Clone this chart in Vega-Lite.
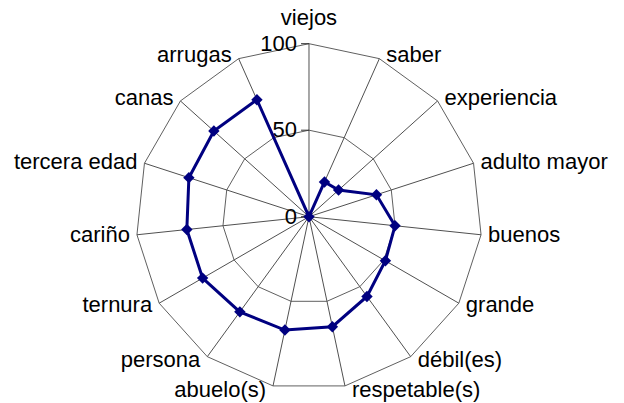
{
  "$schema": "https://vega.github.io/schema/vega-lite/v6.json",
  "width": 624,
  "height": 403,
  "autosize": "none",
  "padding": 0,
  "background": "white",
  "config": {"view": {"stroke": null}},
  "datasets": {
    "cats": [
      {"categoria": "viejos", "valor": 0},
      {"categoria": "saber", "valor": 22},
      {"categoria": "experiencia", "valor": 23},
      {"categoria": "adulto mayor", "valor": 41},
      {"categoria": "buenos", "valor": 50},
      {"categoria": "grande", "valor": 51},
      {"categoria": "débil(es)", "valor": 57},
      {"categoria": "respetable(s)", "valor": 65},
      {"categoria": "abuelo(s)", "valor": 67},
      {"categoria": "persona", "valor": 68},
      {"categoria": "ternura", "valor": 71},
      {"categoria": "cariño", "valor": 71},
      {"categoria": "tercera edad", "valor": 73},
      {"categoria": "canas", "valor": 74},
      {"categoria": "arrugas", "valor": 74}
    ],
    "escala": [{"v": 0}, {"v": 50}, {"v": 100}]
  },
  "data": {"name": "cats"},
  "transform": [
    {"window": [{"op": "row_number", "as": "n"}]},
    {"calculate": "(datum.n - 1) * 2 * PI / 15", "as": "ang"},
    {"calculate": "sin(datum.ang)", "as": "sx"},
    {"calculate": "cos(datum.ang)", "as": "cy"},
    {"calculate": "100 * datum.sx", "as": "lx"},
    {"calculate": "100 * datum.cy", "as": "ly"},
    {"calculate": "datum.valor * datum.sx", "as": "vx"},
    {"calculate": "datum.valor * datum.cy", "as": "vy"}
  ],
  "layer": [
    {
      "transform": [
        {"calculate": "[50, 100]", "as": "nivel"},
        {"flatten": ["nivel"]},
        {"calculate": "datum.nivel * datum.sx", "as": "gx"},
        {"calculate": "datum.nivel * datum.cy", "as": "gy"}
      ],
      "mark": {"type": "line", "interpolate": "linear-closed", "color": "#606060", "strokeWidth": 1},
      "encoding": {
        "x": {"field": "gx", "type": "quantitative", "scale": {"domain": [-178.61, 182.08], "nice": false, "zero": false}, "axis": null},
        "y": {"field": "gy", "type": "quantitative", "scale": {"domain": [-107.69, 125.26], "nice": false, "zero": false}, "axis": null},
        "detail": {"field": "nivel"},
        "order": {"field": "n"}
      }
    },
    {
      "mark": {"type": "rule", "color": "#505050", "strokeWidth": 1},
      "encoding": {
        "x": {"field": "lx", "type": "quantitative", "scale": {"domain": [-178.61, 182.08], "nice": false, "zero": false}, "axis": null},
        "y": {"field": "ly", "type": "quantitative", "scale": {"domain": [-107.69, 125.26], "nice": false, "zero": false}, "axis": null},
        "x2": {"datum": 0},
        "y2": {"datum": 0}
      }
    },
    {
      "data": {"name": "escala"},
      "mark": {"type": "rule", "color": "#303030", "strokeWidth": 1},
      "encoding": {
        "x": {"datum": -4.6, "type": "quantitative", "scale": {"domain": [-178.61, 182.08], "nice": false, "zero": false}, "axis": null},
        "x2": {"datum": 0},
        "y": {"field": "v", "type": "quantitative", "scale": {"domain": [-107.69, 125.26], "nice": false, "zero": false}, "axis": null}
      }
    },
    {
      "data": {"name": "escala"},
      "mark": {"type": "text", "align": "right", "baseline": "alphabetic", "dx": -12, "dy": 7, "font": "Liberation Sans", "fontSize": 22, "color": "black"},
      "encoding": {
        "x": {"datum": 0, "type": "quantitative", "scale": {"domain": [-178.61, 182.08], "nice": false, "zero": false}, "axis": null},
        "y": {"field": "v", "type": "quantitative", "scale": {"domain": [-107.69, 125.26], "nice": false, "zero": false}, "axis": null},
        "text": {"field": "v"}
      }
    },
    {
      "mark": {"type": "line", "interpolate": "linear-closed", "color": "#000080", "strokeWidth": 3},
      "encoding": {
        "x": {"field": "vx", "type": "quantitative", "scale": {"domain": [-178.61, 182.08], "nice": false, "zero": false}, "axis": null},
        "y": {"field": "vy", "type": "quantitative", "scale": {"domain": [-107.69, 125.26], "nice": false, "zero": false}, "axis": null},
        "order": {"field": "n"}
      }
    },
    {
      "mark": {"type": "point", "shape": "diamond", "filled": true, "size": 130, "color": "#000080", "opacity": 1},
      "encoding": {
        "x": {"field": "vx", "type": "quantitative", "scale": {"domain": [-178.61, 182.08], "nice": false, "zero": false}, "axis": null},
        "y": {"field": "vy", "type": "quantitative", "scale": {"domain": [-107.69, 125.26], "nice": false, "zero": false}, "axis": null}
      }
    },
    {
      "mark": {
        "type": "text",
        "font": "Liberation Sans",
        "fontSize": 22,
        "color": "black",
        "baseline": "alphabetic",
        "align": {"expr": "datum.lx > 1 ? 'left' : (datum.lx < -1 ? 'right' : 'center')"},
        "dx": {"expr": "datum.lx > 1 ? 7 : (datum.lx < -1 ? -7 : 0)"},
        "dy": {"expr": "datum.ly > 99 ? -19 : 7 - 4 * datum.ly / 100"}
      },
      "encoding": {
        "x": {"field": "lx", "type": "quantitative", "scale": {"domain": [-178.61, 182.08], "nice": false, "zero": false}, "axis": null},
        "y": {"field": "ly", "type": "quantitative", "scale": {"domain": [-107.69, 125.26], "nice": false, "zero": false}, "axis": null},
        "text": {"field": "categoria"}
      }
    }
  ]
}
